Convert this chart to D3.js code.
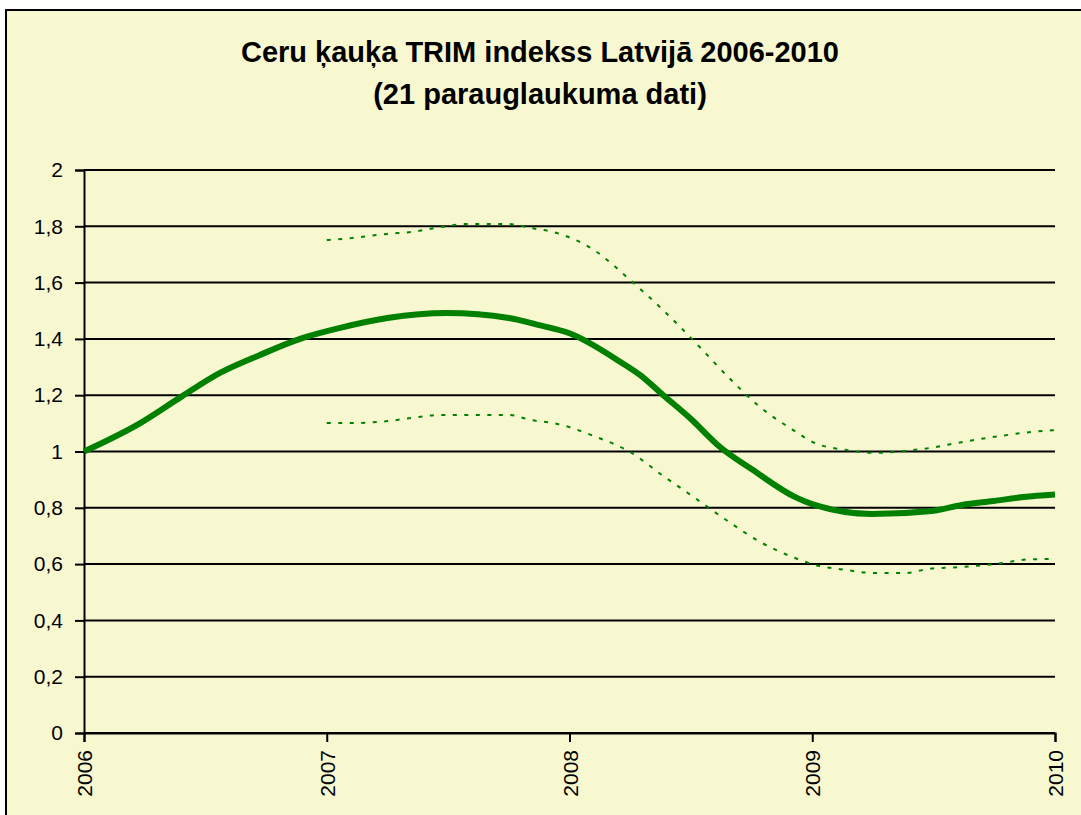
<!DOCTYPE html>
<html>
<head>
<meta charset="utf-8">
<script src="https://cdn.jsdelivr.net/npm/d3@7"></script>
<style>
  body { margin: 0; background: #fff; }
  svg { display: block; }
</style>
</head>
<body>
<svg id="chart" width="1081" height="815"></svg>
<script>
// Title lines
const titleLines = ['Ceru ķauķa TRIM indekss Latvijā 2006-2010', '(21 parauglaukuma dati)'];

// Y axis ticks and x axis year ticks
const yTicks = [0, 0.2, 0.4, 0.6, 0.8, 1, 1.2, 1.4, 1.6, 1.8, 2];
const yearTicks = [2006, 2007, 2008, 2009, 2010];

// Main TRIM index (decimal year / value)
const mainYears = [2006.0, 2006.23, 2006.4, 2006.56, 2006.725, 2006.89, 2007.055, 2007.25, 2007.495,
  2007.75, 2007.87, 2008.0, 2008.21, 2008.29, 2008.385, 2008.496, 2008.62, 2008.756, 2008.93,
  2009.0, 2009.246, 2009.493, 2009.617, 2009.745, 2009.87, 2010.0];
const mainValues = [1.0, 1.10, 1.194, 1.279, 1.343, 1.40, 1.439, 1.474, 1.492,
  1.474, 1.45, 1.42, 1.318, 1.272, 1.201, 1.119, 1.016, 0.934, 0.838,
  0.813, 0.778, 0.789, 0.81, 0.824, 0.838, 0.847];

// Confidence limits (dotted), from 2007
const ciYears = [2007.0, 2007.1, 2007.25, 2007.35, 2007.47, 2007.57, 2007.75, 2007.84, 2007.94,
  2008.1, 2008.25, 2008.385, 2008.52, 2008.65, 2008.785, 2008.94, 2009.0, 2009.14, 2009.26,
  2009.38, 2009.48, 2009.62, 2009.75, 2009.9, 2010.0];
const upperValues = [1.751, 1.758, 1.773, 1.78, 1.797, 1.808, 1.808, 1.794, 1.778,
  1.716, 1.609, 1.503, 1.386, 1.268, 1.158, 1.066, 1.034, 1.005, 0.995,
  1.002, 1.012, 1.034, 1.052, 1.069, 1.076];
const lowerValues = [1.101, 1.101, 1.108, 1.119, 1.13, 1.13, 1.13, 1.112, 1.10,
  1.055, 0.998, 0.914, 0.833, 0.754, 0.679, 0.618, 0.60, 0.579, 0.568,
  0.568, 0.583, 0.59, 0.60, 0.617, 0.618];

const svg = d3.select('#chart');
const green = '#008000';

// chart background with border (right/bottom edges run off the page)
svg.append('rect')
  .attr('x', 6).attr('y', 10)
  .attr('width', 1200).attr('height', 1000)
  .attr('fill', '#F8F8D0')
  .attr('stroke', '#000')
  .attr('stroke-width', 2);

const margin = { left: 84, right: 1055, top: 170, bottom: 733 };

const x = d3.scaleLinear().domain([2006, 2010]).range([margin.left, margin.right]);
const y = d3.scaleLinear().domain([0, 2]).range([margin.bottom, margin.top]);

// title
svg.append('g').selectAll('text')
  .data(titleLines)
  .join('text')
  .attr('x', 540)
  .attr('y', (d, i) => 62 + i * 42)
  .attr('text-anchor', 'middle')
  .attr('font-family', 'Liberation Sans, Arial, sans-serif')
  .attr('font-weight', 'bold')
  .attr('font-size', 29)
  .attr('fill', '#000')
  .text(d => d);

// horizontal grid lines
svg.append('g').selectAll('line')
  .data(yTicks)
  .join('line')
  .attr('x1', margin.left).attr('x2', margin.right)
  .attr('y1', d => y(d)).attr('y2', d => y(d))
  .attr('stroke', '#000')
  .attr('stroke-width', 2);

// y axis
const yAxis = d3.axisLeft(y)
  .tickValues(yTicks)
  .tickSize(9)
  .tickPadding(12)
  .tickFormat(d => String(d).replace('.', ','));

const gy = svg.append('g')
  .attr('transform', `translate(${margin.left},0)`)
  .call(yAxis);
gy.select('.domain').attr('stroke', '#000').attr('stroke-width', 2);
gy.selectAll('.tick line').attr('stroke', '#000').attr('stroke-width', 2);
gy.selectAll('.tick text')
  .attr('font-family', 'Liberation Sans, Arial, sans-serif')
  .attr('font-size', 21)
  .attr('fill', '#000');

// x axis
const xAxis = d3.axisBottom(x)
  .tickValues(yearTicks)
  .tickSize(9)
  .tickFormat(d3.format('d'));

const gx = svg.append('g')
  .attr('transform', `translate(0,${margin.bottom})`)
  .call(xAxis);
gx.select('.domain').attr('stroke', '#000').attr('stroke-width', 2);
gx.selectAll('.tick line').attr('stroke', '#000').attr('stroke-width', 2);
gx.selectAll('.tick text')
  .attr('font-family', 'Liberation Sans, Arial, sans-serif')
  .attr('font-size', 21)
  .attr('fill', '#000')
  .attr('text-anchor', 'end')
  .attr('transform', 'translate(0,17) rotate(-90)')
  .attr('x', 0)
  .attr('y', 0)
  .attr('dy', '0.36em');

// lines
const line = d3.line()
  .x(d => x(d[0]))
  .y(d => y(d[1]))
  .curve(d3.curveMonotoneX);

const mainData = mainYears.map((t, i) => [t, mainValues[i]]);
const upperData = ciYears.map((t, i) => [t, upperValues[i]]);
const lowerData = ciYears.map((t, i) => [t, lowerValues[i]]);

[upperData, lowerData].forEach(data => {
  svg.append('path')
    .datum(data)
    .attr('fill', 'none')
    .attr('stroke', green)
    .attr('stroke-width', 2)
    .attr('stroke-dasharray', '4,7.5')
    .attr('d', line);
});

svg.append('path')
  .datum(mainData)
  .attr('fill', 'none')
  .attr('stroke', green)
  .attr('stroke-width', 6)
  .attr('stroke-linejoin', 'round')
  .attr('d', line);
</script>
</body>
</html>
